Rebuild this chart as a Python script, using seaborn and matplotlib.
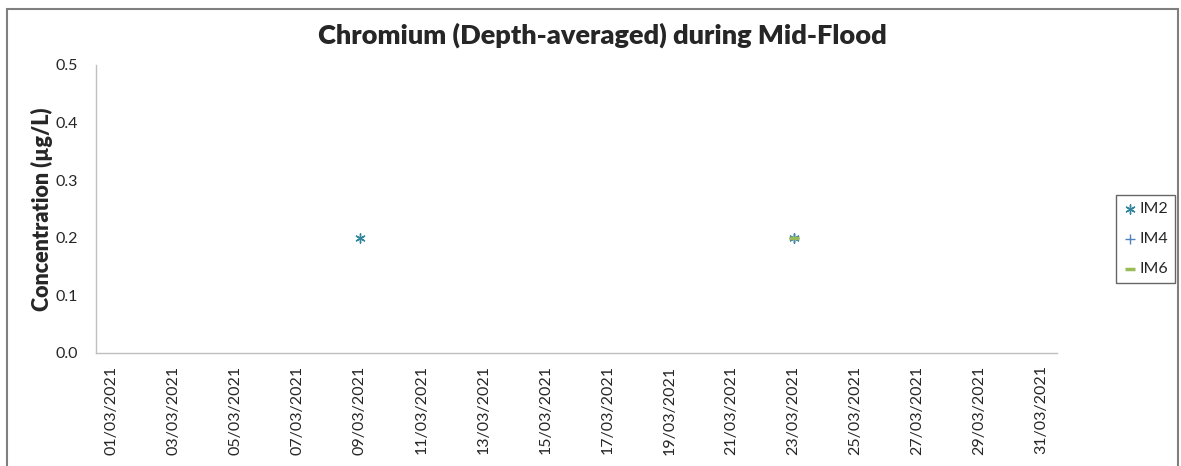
import pandas as pd
import numpy as np
import matplotlib.pyplot as plt
from matplotlib.patches import Rectangle
import seaborn as sns

SERIES = ['IM2', 'IM4', 'IM6']
IM2_DATES = ['2021-03-09', '2021-03-23']
IM2_VALUES = [0.2, 0.2]
IM4_DATES = ['2021-03-23']
IM4_VALUES = [0.2]
IM6_DATES = ['2021-03-23']
IM6_VALUES = [0.2]

TITLE = 'Chromium (Depth-averaged) during Mid-Flood'
Y_LABEL = 'Concentration (µg/L)'
START, END = '2021-03-01', '2021-03-31'

COLORS = {'IM2': '#31859C', 'IM4': '#4F81BD', 'IM6': '#9BBB59'}
MARKERS = {'IM2': (6, 2, 0), 'IM4': '+', 'IM6': '_'}
WIDTHS = {'IM2': 1.0, 'IM4': 1.0, 'IM6': 2.5}


def build_frame():
    parts = []
    for name, dates, vals in [('IM2', IM2_DATES, IM2_VALUES),
                              ('IM4', IM4_DATES, IM4_VALUES),
                              ('IM6', IM6_DATES, IM6_VALUES)]:
        parts.append(pd.DataFrame({'date': pd.to_datetime(dates),
                                   'value': vals, 'site': name}))
    return pd.concat(parts, ignore_index=True)


def draw(data):
    sns.set_style('white')
    plt.rcParams['font.family'] = ['Lato', 'DejaVu Sans']

    fig = plt.figure(figsize=(11.81, 4.66), dpi=100)
    ax = fig.add_axes([96 / 1181, 1 - 353 / 466, 961 / 1181, 288 / 466])

    for name in SERIES:
        sub = data[data['site'] == name]
        sns.scatterplot(data=sub, x='date', y='value', ax=ax,
                        marker=MARKERS[name], color=COLORS[name],
                        s=45, linewidth=WIDTHS[name], label=name)

    start = pd.Timestamp(START)
    end = pd.Timestamp(END)
    ax.set_xlim(start - pd.Timedelta(hours=12), end + pd.Timedelta(hours=12))
    ax.set_ylim(0, 0.5)
    yt = np.arange(0, 0.51, 0.1)
    ax.set_yticks(yt)
    ax.set_yticklabels([f'{v:.1f}' for v in yt], fontsize=11.5)

    # tick marks on day boundaries, labels centred on days
    label_days = pd.date_range(start, end, freq='2D')
    ax.set_xticks(label_days - pd.Timedelta(hours=12))
    ax.set_xticklabels([])
    ax.set_xticks(label_days, minor=True)
    ax.set_xticklabels(label_days.strftime('%d/%m/%Y'), minor=True,
                       rotation=90, fontsize=11.5)
    ax.tick_params(axis='x', which='minor', length=0, pad=9)
    ax.tick_params(axis='x', which='major', length=5, color='#BFBFBF', width=1)
    ax.tick_params(axis='y', length=5, color='#BFBFBF', width=1, pad=8)

    for side in ['top', 'right']:
        ax.spines[side].set_visible(False)
    for side in ['left', 'bottom']:
        ax.spines[side].set_color('#BFBFBF')
        ax.spines[side].set_linewidth(1)

    ax.set_xlabel('')
    ax.set_ylabel(Y_LABEL, fontsize=15.5, fontweight='heavy', labelpad=2)
    fig.text(602 / 1181, 1 - 35 / 466, TITLE, ha='center', va='center',
             fontsize=19.5, fontweight='heavy')

    ax.legend(loc='center left', bbox_to_anchor=(1116 / 1181, 1 - 239 / 466),
              bbox_transform=fig.transFigure, frameon=True, fancybox=False,
              edgecolor='#404040', fontsize=11.5, handletextpad=0.2,
              handlelength=0.8, borderpad=0.45, labelspacing=1.0,
              borderaxespad=0)

    # outer chart border
    fig.add_artist(Rectangle((7 / 1181, -0.1), 1171 / 1181, 1.1 - 9 / 466,
                             transform=fig.transFigure, fill=False,
                             edgecolor='#7F7F7F', linewidth=1.5))

    fig.savefig('out.png', dpi=100)


if __name__ == '__main__':
    draw(build_frame())
